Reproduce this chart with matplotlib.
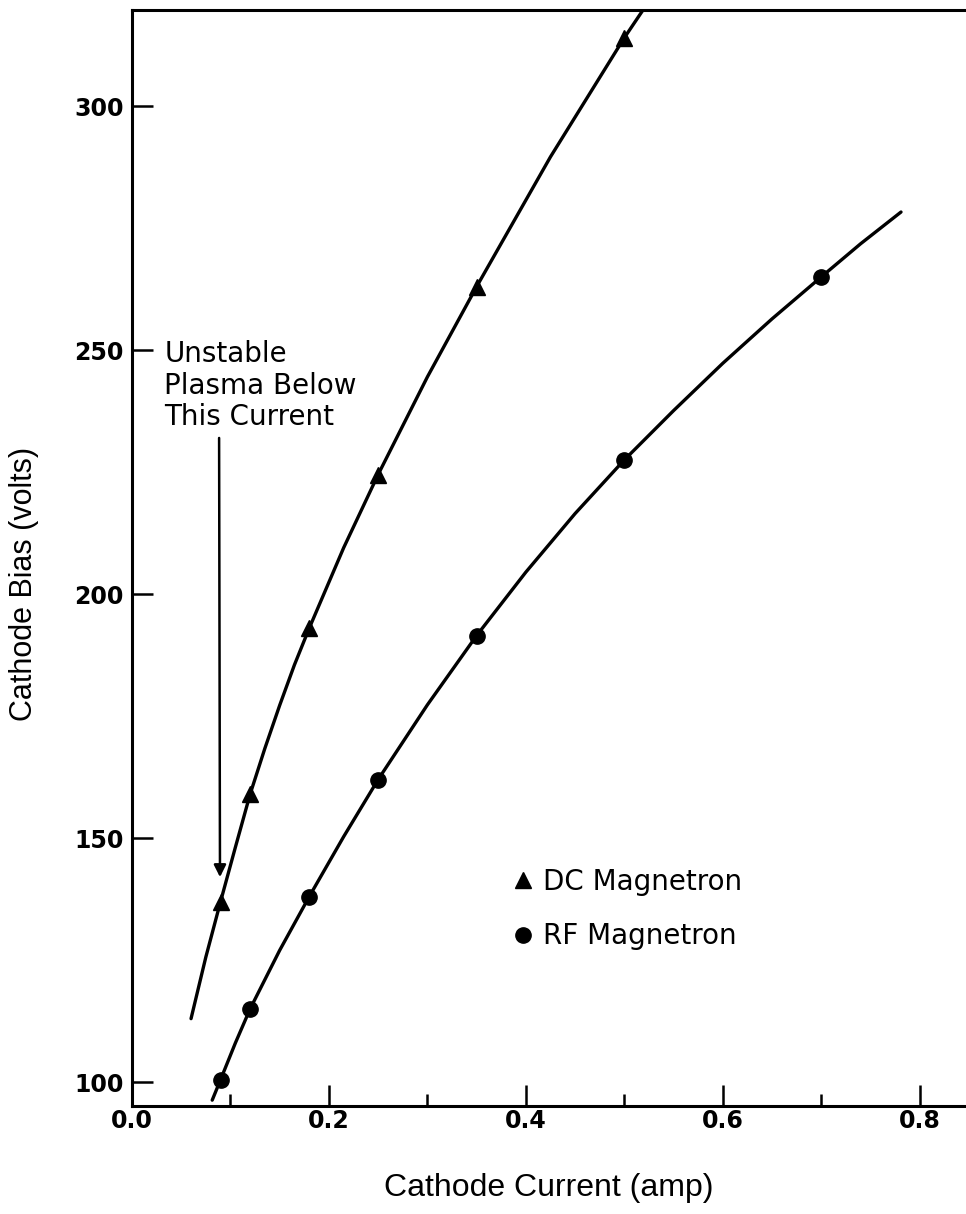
import matplotlib
matplotlib.use("Agg")
import matplotlib.pyplot as plt
from matplotlib.lines import Line2D

# measured points
current = [0.09, 0.12, 0.18, 0.25, 0.35, 0.5, 0.7]
dc_bias = [137, 159, 193, 224.5, 263, 314]
rf_bias = [100.5, 115, 138, 162, 191.5, 227.5, 265]

# hand-drawn curves
dc_curve_x = [0.060, 0.075, 0.09, 0.105, 0.12, 0.135, 0.15, 0.165, 0.18, 0.215, 0.25,
              0.30, 0.35, 0.425, 0.5, 0.525]
dc_curve_y = [113, 125.6, 137, 148.1, 159, 168.4, 177.2, 185.5, 193, 209.5, 224.5,
              244.5, 263, 289.6, 314, 321.5]
rf_curve_x = [0.0815, 0.09, 0.105, 0.12, 0.15, 0.18, 0.215, 0.25, 0.30, 0.35, 0.40,
              0.45, 0.5, 0.55, 0.60, 0.65, 0.7, 0.74, 0.781]
rf_curve_y = [96.3, 100.5, 108, 115, 127, 138, 150.3, 162, 177.3, 191.5, 204.5,
              216.5, 227.5, 237.6, 247.3, 256.4, 265, 271.8, 278.3]

x_ticks = [0.0, 0.2, 0.4, 0.6, 0.8]
y_ticks = [100, 150, 200, 250, 300]

plt.rcParams['font.family'] = ['DejaVu Sans']

fig = plt.figure(figsize=(9.66, 12.14), dpi=100)
ax = fig.add_axes([0.1366, 1 - 1106 / 1214, 1 - 0.1366, 1096 / 1214])

ax.plot(dc_curve_x, dc_curve_y, color='black', lw=2.4, solid_capstyle='round')
ax.plot(rf_curve_x, rf_curve_y, color='black', lw=2.4, solid_capstyle='round')
ax.plot(current[:len(dc_bias)], dc_bias, ls='none', marker='^', ms=12, color='black')
ax.plot(current, rf_bias, ls='none', marker='o', ms=11, color='black')

ax.set_xlim(0, 0.847)
ax.set_ylim(95.1, 319.7)
ax.set_xticks(x_ticks)
ax.set_xticks([0.1, 0.3, 0.5, 0.7], minor=True)
ax.set_xticklabels(['%.1f' % v for v in x_ticks])
ax.set_yticks(y_ticks)
for lab in ax.get_xticklabels() + ax.get_yticklabels():
    lab.set_fontweight('bold')

for side in ['left', 'bottom', 'top']:
    ax.spines[side].set_linewidth(2.2)
ax.spines['right'].set_visible(False)
ax.tick_params(axis='both', which='major', direction='in', length=15, width=1.8,
               labelsize=17)
ax.tick_params(axis='x', which='major', pad=2)
ax.tick_params(axis='y', which='major', pad=6)
ax.tick_params(axis='x', which='minor', direction='in', length=9, width=1.8)

ax.set_xlabel('Cathode Current (amp)', fontsize=23, family='Liberation Sans')
ax.set_ylabel('Cathode Bias (volts)', fontsize=22, family='Liberation Sans')
ax.xaxis.set_label_coords(0.5, -0.061)
ax.yaxis.set_label_coords(-0.112, 0.476)

ax.annotate('', xy=(0.0894, 142), xytext=(0.0885, 232),
            arrowprops=dict(arrowstyle='-|>', color='black', lw=1.8,
                            mutation_scale=18, shrinkA=0, shrinkB=0))
ax.text(0.033, 252, 'Unstable\nPlasma Below\nThis Current', fontsize=20,
        va='top', ha='left', linespacing=1.15)

handles = [Line2D([], [], ls='none', marker='^', ms=12, color='black'),
           Line2D([], [], ls='none', marker='o', ms=11, color='black')]
ax.legend(handles, ['DC Magnetron', 'RF Magnetron'], loc='upper left',
          bbox_to_anchor=(0.4556, 0.217), frameon=False, fontsize=20,
          handlelength=0.8, handletextpad=0.3, labelspacing=0.94, borderpad=0,
          borderaxespad=0)

fig.savefig('out.png', dpi=100)
